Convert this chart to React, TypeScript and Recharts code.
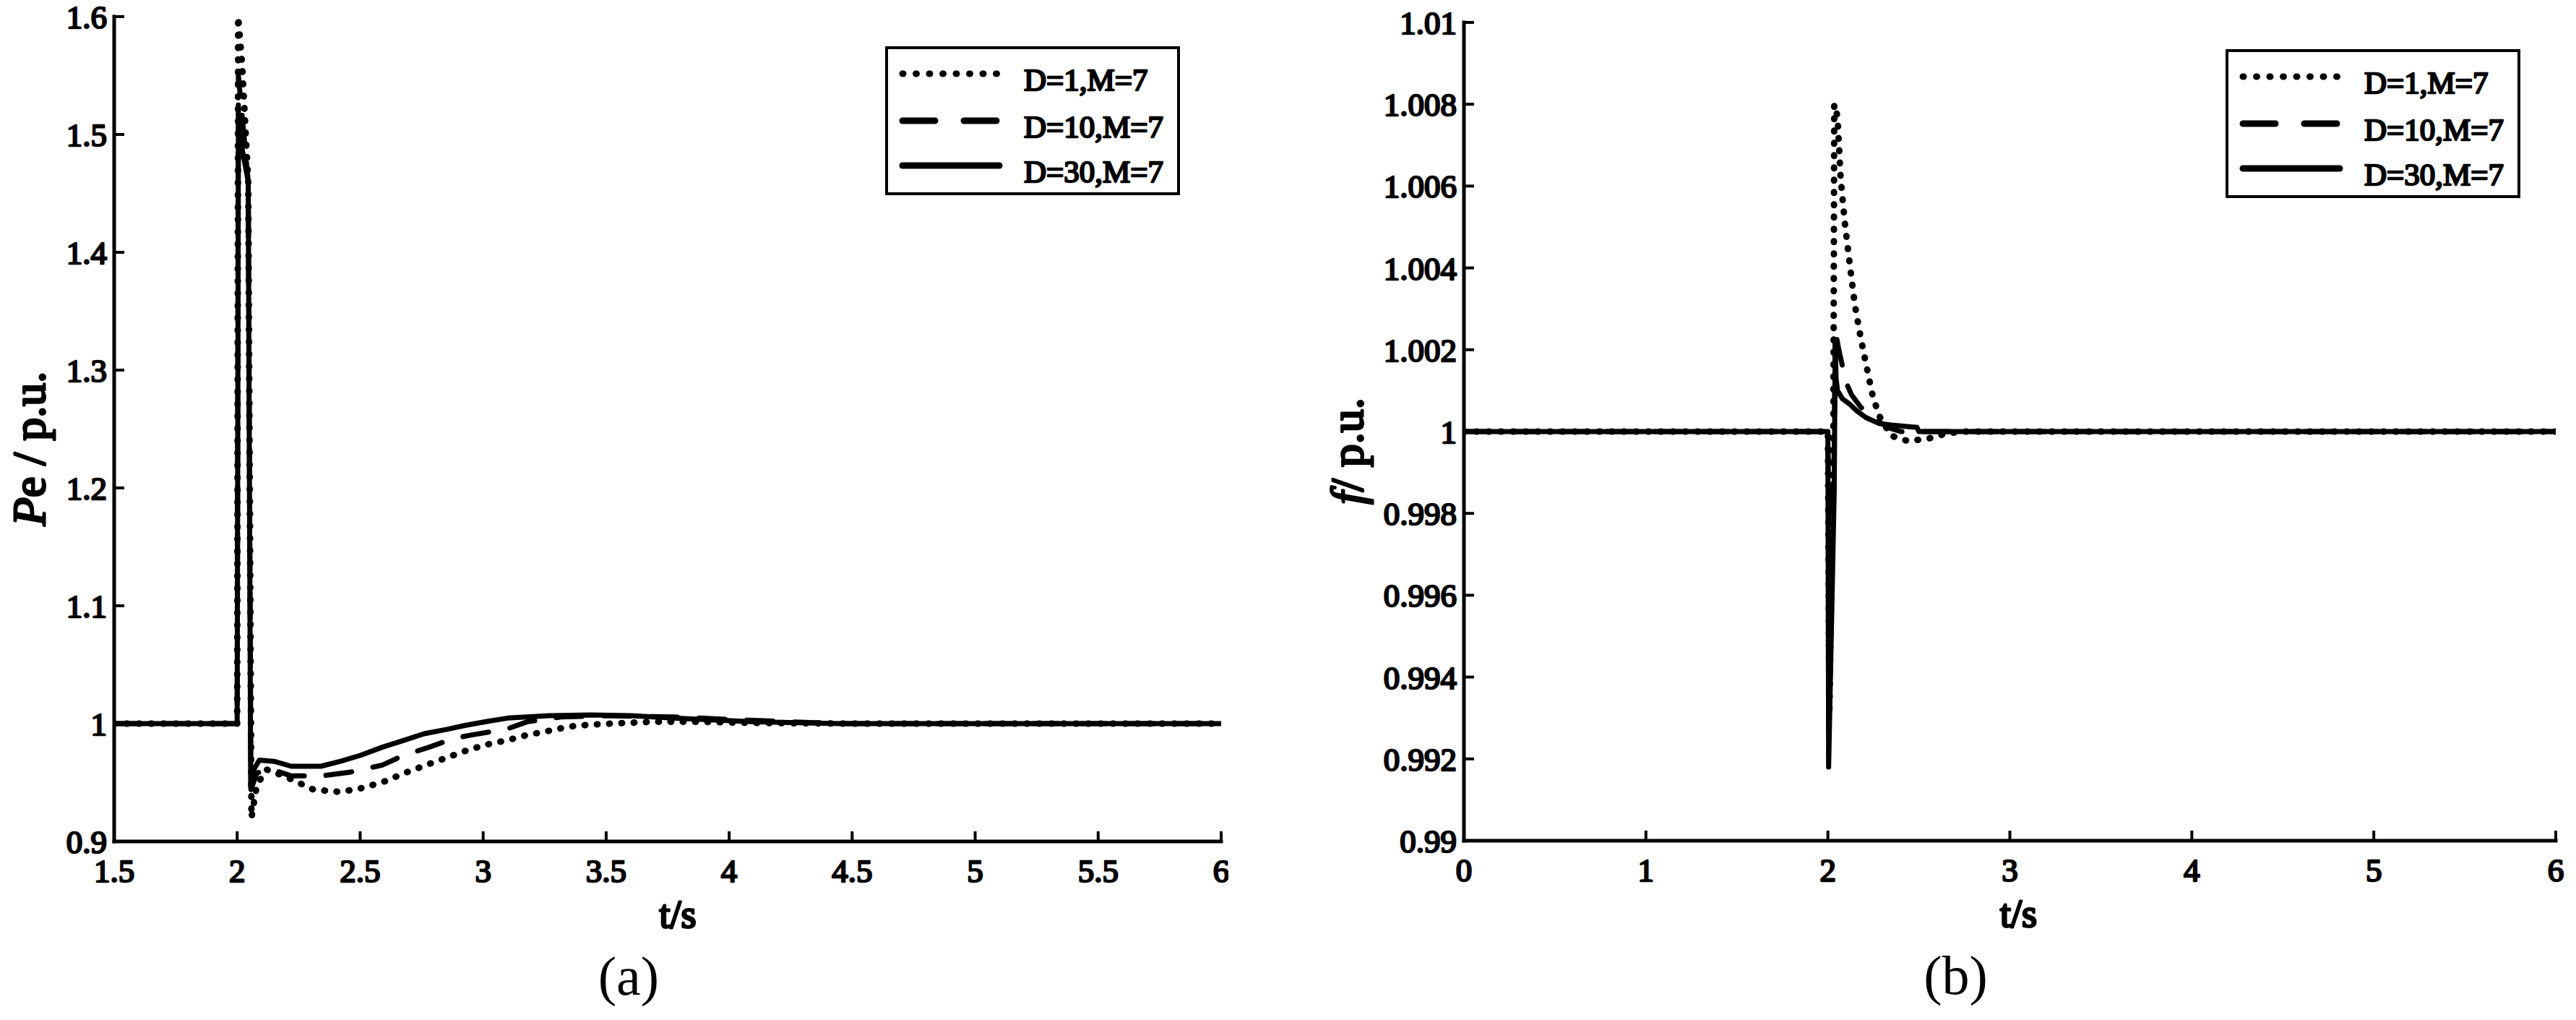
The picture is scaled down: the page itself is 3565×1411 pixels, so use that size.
import { LineChart, Line, XAxis, YAxis, Legend } from 'recharts';

// ---- (a) electrical power Pe ----
const peTime1 = [1.5, 2.0, 2.004, 2.02, 2.045, 2.058, 2.08, 2.12, 2.19, 2.31, 2.42, 2.51, 2.6, 2.68, 2.77, 2.85, 2.93, 3.01, 3.1, 3.18, 3.27, 3.35, 3.44, 3.52, 3.69, 3.86, 4.1, 4.5, 6.0];
const peD1 = [1.0, 1.0, 1.6, 1.56, 1.46, 0.92, 0.948, 0.961, 0.9556, 0.944, 0.942, 0.9454, 0.951, 0.958, 0.965, 0.971, 0.977, 0.982, 0.986, 0.9904, 0.994, 0.9975, 0.9992, 1.0, 1.0016, 1.0016, 1.0006, 1.0, 1.0];

const peTime10 = [1.5, 2.0, 2.005, 2.045, 2.056, 2.08, 2.13, 2.22, 2.34, 2.457, 2.59, 2.676, 2.78, 2.878, 2.954, 3.098, 3.18, 3.317, 3.5, 3.77, 4.1, 4.45, 6.0];
const peD10 = [1.0, 1.0, 1.55, 1.46, 0.944, 0.958, 0.962, 0.9556, 0.9556, 0.9587, 0.9648, 0.973, 0.98, 0.9873, 0.9904, 0.9955, 1.0016, 1.0057, 1.0067, 1.0057, 1.0027, 1.0, 1.0];

const peTime30 = [1.5, 2.0, 2.005, 2.045, 2.055, 2.07, 2.09, 2.15, 2.22, 2.34, 2.42, 2.5, 2.59, 2.68, 2.76, 2.85, 2.93, 3.02, 3.1, 3.27, 3.435, 3.6, 3.77, 3.94, 4.11, 4.45, 6.0];
const peD30 = [1.0, 1.0, 1.505, 1.46, 0.946, 0.962, 0.969, 0.968, 0.9638, 0.9638, 0.968, 0.973, 0.98, 0.986, 0.9914, 0.995, 0.9986, 1.002, 1.0047, 1.0067, 1.0074, 1.0067, 1.0047, 1.003, 1.0016, 1.0, 1.0];

const peXTicks = [1.5, 2, 2.5, 3, 3.5, 4, 4.5, 5, 5.5, 6];
const peYTicks = [0.9, 1, 1.1, 1.2, 1.3, 1.4, 1.5, 1.6];

// ---- (b) frequency f ----
const fTime1 = [0, 2.0, 2.008, 2.03, 2.035, 2.053, 2.07, 2.093, 2.12, 2.148, 2.18, 2.212, 2.245, 2.28, 2.347, 2.438, 2.545, 2.65, 2.736, 6.0];
const fD1 = [1.0, 1.0, 0.9931, 0.9995, 1.008, 1.0077, 1.0062, 1.0051, 1.0041, 1.0031, 1.0023, 1.0016, 1.0009, 1.0004, 0.9999, 0.99977, 0.99982, 0.99995, 1.0, 1.0];

const fTime10 = [0, 2.0, 2.006, 2.035, 2.04, 2.06, 2.08, 2.1, 2.13, 2.18, 2.26, 2.33, 2.4, 6.0];
const fD10 = [1.0, 1.0, 0.9965, 0.9995, 1.0025, 1.002, 1.0016, 1.0012, 1.0009, 1.0006, 1.0003, 1.0001, 1.0, 1.0];

const fTime30 = [0, 2.0, 2.004, 2.035, 2.04, 2.045, 2.053, 2.08, 2.12, 2.16, 2.21, 2.28, 2.347, 2.49, 2.5, 6.0];
const fD30 = [1.0, 1.0, 0.9918, 0.9986, 1.0022, 1.0013, 1.001, 1.0008, 1.00067, 1.0005, 1.00034, 1.0002, 1.00016, 1.0001, 1.0, 1.0];

const fXTicks = [0, 1, 2, 3, 4, 5, 6];
const fYTicks = [0.99, 0.992, 0.994, 0.996, 0.998, 1, 1.002, 1.004, 1.006, 1.008, 1.01];

const seriesNames = ['D=1,M=7', 'D=10,M=7', 'D=30,M=7'];

const FONT = '"Liberation Serif", "DejaVu Serif", serif';

// regular serif face thickened with a stroke, reads as bold
const boldText = {
  fontFamily: FONT,
  fontWeight: 'normal',
  fill: '#000',
  stroke: '#000',
  strokeWidth: 2.4,
  strokeLinejoin: 'round' as const,
  paintOrder: 'stroke',
};

const zip = (t: number[], v: number[]) => t.map((x, i) => ({ t: x, v: v[i] }));

const lineStyles = [
  { strokeWidth: 9, strokeDasharray: '1 16', strokeLinecap: 'round' as const },
  { strokeWidth: 7, strokeDasharray: '36 30', strokeLinecap: 'round' as const },
  { strokeWidth: 7, strokeDasharray: undefined, strokeLinecap: 'butt' as const },
];

function LegendBox() {
  const rows = [38, 103, 165];
  return (
    <svg width={408} height={206} style={{ display: 'block' }}>
      <rect x={2} y={2} width={404} height={202} fill="#fff" stroke="#000" strokeWidth={4} />
      {seriesNames.map((name, i) => (
        <g key={name}>
          <line
            x1={24}
            x2={158}
            y1={rows[i]}
            y2={rows[i]}
            stroke="#000"
            strokeWidth={9}
            strokeDasharray={i === 0 ? '1 17.5' : i === 1 ? '45 40' : undefined}
            strokeLinecap="round"
          />
          <text x={192} y={rows[i] + 23} fontSize={43} {...boldText}>
            {name}
          </text>
        </g>
      ))}
    </svg>
  );
}

const axisLine = { stroke: '#000', strokeWidth: 5, strokeLinecap: 'square' as const };
const tickLine = { stroke: '#000', strokeWidth: 4 };
const tickFont = { fontSize: 45, ...boldText };

type PanelProps = {
  left: number;
  width: number;
  top: number;
  plotBottom: number;
  yAxisWidth: number;
  right: number;
  xTicks: number[];
  yTicks: number[];
  series: { t: number; v: number }[][];
  yLabel: React.ReactNode;
  yLabelX: number;
  tsOffset: number;
  capOffset: number;
  caption: string;
  legendLeft: number;
  legendTop: number;
};

function Panel(p: PanelProps) {
  const height = 1411;
  const xDomain = [p.xTicks[0], p.xTicks[p.xTicks.length - 1]];
  const yDomain = [p.yTicks[0], p.yTicks[p.yTicks.length - 1]];
  return (
    <div style={{ position: 'absolute', left: p.left, top: 0 }}>
      <LineChart width={p.width} height={height} margin={{ top: p.top, right: p.right, bottom: 0, left: 0 }}>
        <XAxis
          xAxisId="b"
          dataKey="t"
          type="number"
          domain={xDomain}
          ticks={p.xTicks}
          interval={0}
          allowDataOverflow
          height={height - p.plotBottom}
          axisLine={axisLine}
          tickLine={tickLine}
          tickSize={-14}
          tickMargin={38}
          tick={tickFont}
          label={{
            content: ({ viewBox }: any) => {
              const cx = viewBox.x + viewBox.width / 2;
              return (
                <g>
                  <text x={cx + p.tsOffset} y={viewBox.y + 119} textAnchor="middle" fontSize={54} {...boldText} strokeWidth={3}>
                    t/s
                  </text>
                  <text x={cx + p.capOffset} y={viewBox.y + 212} textAnchor="middle" fontFamily={FONT} fontSize={76} fill="#000">
                    {p.caption}
                  </text>
                </g>
              );
            },
          }}
        />
        <XAxis
          xAxisId="t"
          orientation="top"
          type="number"
          domain={xDomain}
          ticks={p.xTicks}
          interval={0}
          allowDataOverflow
          height={0}
          axisLine={axisLine}
          tickLine={tickLine}
          tickSize={-14}
          tickFormatter={() => ''}
        />
        <YAxis
          yAxisId="l"
          type="number"
          domain={yDomain}
          ticks={p.yTicks}
          interval={0}
          allowDataOverflow
          width={p.yAxisWidth}
          axisLine={axisLine}
          tickLine={tickLine}
          tickSize={-14}
          tickMargin={24}
          tick={tickFont}
          label={{
            content: ({ viewBox }: any) => {
              const cy = viewBox.y + viewBox.height / 2 + 27;
              return (
                <text
                  x={p.yLabelX}
                  y={cy}
                  transform={`rotate(-90 ${p.yLabelX} ${cy})`}
                  textAnchor="middle"
                  fontSize={64}
                  {...boldText}
                  strokeWidth={3}
                >
                  {p.yLabel}
                </text>
              );
            },
          }}
        />
        <YAxis
          yAxisId="r"
          orientation="right"
          type="number"
          domain={yDomain}
          ticks={p.yTicks}
          interval={0}
          allowDataOverflow
          width={0}
          axisLine={axisLine}
          tickLine={tickLine}
          tickSize={-14}
          tickFormatter={() => ''}
        />
        {p.series.map((data, i) => (
          <Line
            key={seriesNames[i]}
            xAxisId="b"
            yAxisId="l"
            data={data}
            dataKey="v"
            name={seriesNames[i]}
            type="linear"
            stroke="#000"
            strokeWidth={lineStyles[i].strokeWidth}
            strokeDasharray={lineStyles[i].strokeDasharray}
            strokeLinecap={lineStyles[i].strokeLinecap}
            strokeLinejoin="round"
            dot={false}
            activeDot={false}
            isAnimationActive={false}
          />
        ))}
        <Legend
          layout="vertical"
          align="center"
          verticalAlign="middle"
          wrapperStyle={{ left: p.legendLeft, top: p.legendTop, width: 408, height: 206 }}
          content={() => <LegendBox />}
        />
      </LineChart>
    </div>
  );
}

export default function App() {
  return (
    <div style={{ position: 'absolute', left: 0, top: 0, width: 3565, height: 1411, background: '#fff', overflow: 'hidden' }}>
      <Panel
        left={0}
        width={1700}
        top={23}
        plotBottom={1164}
        yAxisWidth={158}
        right={10}
        xTicks={peXTicks}
        yTicks={peYTicks}
        series={[zip(peTime1, peD1), zip(peTime10, peD10), zip(peTime30, peD30)]}
        yLabel={
          <>
            <tspan fontStyle="italic">P</tspan>e / p.u.
          </>
        }
        yLabelX={62}
        tsOffset={14}
        capOffset={-54}
        caption="(a)"
        legendLeft={1225}
        legendTop={64}
      />
      <Panel
        left={1780}
        width={1785}
        top={31}
        plotBottom={1163}
        yAxisWidth={246}
        right={28}
        xTicks={fXTicks}
        yTicks={fYTicks}
        series={[zip(fTime1, fD1), zip(fTime10, fD10), zip(fTime30, fD30)]}
        yLabel={
          <>
            <tspan fontStyle="italic">f</tspan>/ p.u.
          </>
        }
        yLabelX={106}
        tsOffset={12}
        capOffset={-75}
        caption="(b)"
        legendLeft={1300}
        legendTop={68}
      />
    </div>
  );
}
